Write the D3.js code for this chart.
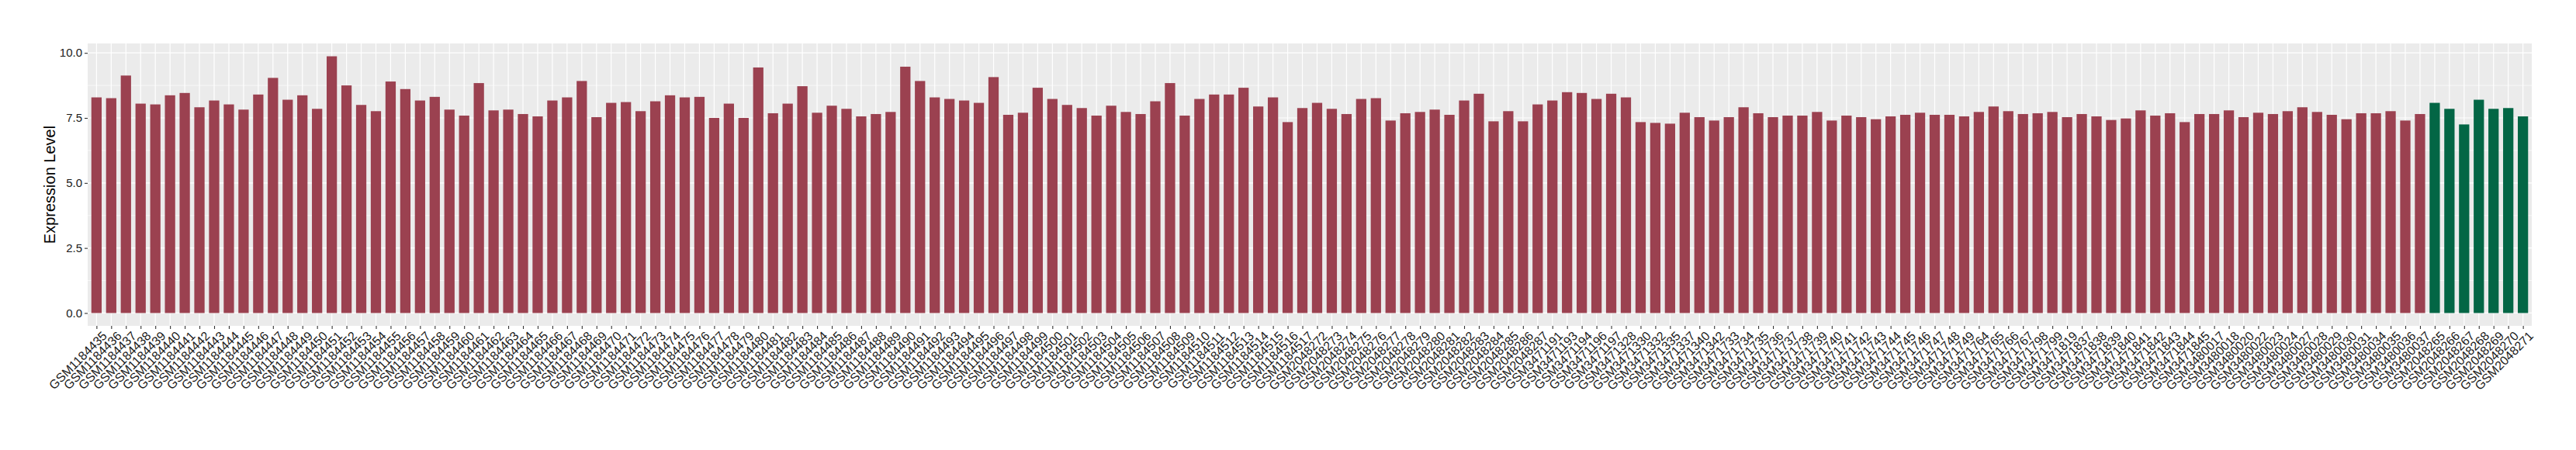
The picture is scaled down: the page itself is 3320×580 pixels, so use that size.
<!DOCTYPE html>
<html>
<head>
<meta charset="utf-8">
<script src="https://cdn.jsdelivr.net/npm/d3@7"></script>
<style>
  html, body { margin: 0; padding: 0; background: #ffffff; }
  svg { display: block; }
</style>
</head>
<body>
<svg id="chart" width="3320" height="580"></svg>
<script>
// ---------- data ----------
const samples = [
  "GSM1184435","GSM1184436","GSM1184437","GSM1184438","GSM1184439","GSM1184440","GSM1184441","GSM1184442","GSM1184443","GSM1184444",
  "GSM1184445","GSM1184446","GSM1184447","GSM1184448","GSM1184449","GSM1184450","GSM1184451","GSM1184452","GSM1184453","GSM1184454",
  "GSM1184455","GSM1184456","GSM1184457","GSM1184458","GSM1184459","GSM1184460","GSM1184461","GSM1184462","GSM1184463","GSM1184464",
  "GSM1184465","GSM1184466","GSM1184467","GSM1184468","GSM1184469","GSM1184470","GSM1184471","GSM1184472","GSM1184473","GSM1184474",
  "GSM1184475","GSM1184476","GSM1184477","GSM1184478","GSM1184479","GSM1184480","GSM1184481","GSM1184482","GSM1184483","GSM1184484",
  "GSM1184485","GSM1184486","GSM1184487","GSM1184488","GSM1184489","GSM1184490","GSM1184491","GSM1184492","GSM1184493","GSM1184494",
  "GSM1184495","GSM1184496","GSM1184497","GSM1184498","GSM1184499","GSM1184500","GSM1184501","GSM1184502","GSM1184503","GSM1184504",
  "GSM1184505","GSM1184506","GSM1184507","GSM1184508","GSM1184509","GSM1184510","GSM1184511","GSM1184512","GSM1184513","GSM1184514",
  "GSM1184515","GSM1184516","GSM1184517",
  "GSM2048272","GSM2048273","GSM2048274","GSM2048275","GSM2048276","GSM2048277","GSM2048278","GSM2048279","GSM2048280","GSM2048281",
  "GSM2048282","GSM2048283","GSM2048284","GSM2048285","GSM2048286","GSM2048287",
  "GSM3471191","GSM3471193","GSM3471194","GSM3471196","GSM3471197",
  "GSM3471328","GSM3471330","GSM3471332","GSM3471335","GSM3471337","GSM3471340","GSM3471342",
  "GSM3471733","GSM3471734","GSM3471735","GSM3471736","GSM3471737","GSM3471738","GSM3471739","GSM3471740","GSM3471741","GSM3471742",
  "GSM3471743","GSM3471744","GSM3471745","GSM3471746","GSM3471747","GSM3471748","GSM3471749","GSM3471764","GSM3471765","GSM3471766",
  "GSM3471767","GSM3471798","GSM3471799",
  "GSM3471819","GSM3471837","GSM3471838","GSM3471839","GSM3471840","GSM3471841","GSM3471842","GSM3471843","GSM3471844","GSM3471845",
  "GSM3480017","GSM3480018","GSM3480020","GSM3480022","GSM3480023","GSM3480024","GSM3480027","GSM3480028","GSM3480029","GSM3480030",
  "GSM3480031","GSM3480034","GSM3480035","GSM3480036","GSM3480037",
  "GSM2048265","GSM2048266","GSM2048267","GSM2048268","GSM2048269","GSM2048270","GSM2048271"
];

const expression = [
  8.29,8.26,9.13,8.05,8.02,8.37,8.46,7.91,8.17,8.02,
  7.82,8.40,9.04,8.20,8.37,7.85,9.87,8.75,8.00,7.76,
  8.90,8.61,8.17,8.31,7.82,7.59,8.84,7.79,7.82,7.65,
  7.56,8.17,8.29,8.92,7.53,8.08,8.11,7.76,8.14,8.37,
  8.29,8.31,7.50,8.05,7.50,9.44,7.68,8.05,8.72,7.70,
  7.97,7.85,7.56,7.65,7.73,9.47,8.92,8.29,8.23,8.17,
  8.08,9.07,7.62,7.70,8.66,8.23,8.00,7.88,7.59,7.97,
  7.73,7.65,8.14,8.84,7.59,8.23,8.40,8.40,8.66,7.94,
  8.29,7.34,7.88,
  8.08,7.85,7.65,8.23,8.26,7.40,7.68,7.73,7.82,7.62,
  8.17,8.43,7.37,7.76,7.37,8.02,
  8.17,8.49,8.46,8.23,8.43,
  8.29,7.34,7.31,7.28,7.70,7.53,7.40,
  7.53,7.91,7.68,7.53,7.59,7.59,7.73,7.40,7.59,7.53,
  7.45,7.56,7.62,7.70,7.62,7.62,7.56,7.73,7.94,7.76,
  7.65,7.68,7.73,
  7.53,7.65,7.56,7.42,7.48,7.79,7.59,7.68,7.34,7.65,
  7.65,7.79,7.53,7.70,7.65,7.76,7.91,7.73,7.62,7.45,
  7.68,7.68,7.76,7.40,7.65,
  8.08,7.85,7.25,8.20,7.85,7.88,7.56
];

// group of each sample: "tumor" (red) or "normal" (green)
const groups = samples.map((s, i) => i >= samples.length - 7 ? "normal" : "tumor");
const groupNames = ["tumor", "normal"];
const groupColors = ["#9B4150", "#036645"];

const yTicks = [0, 2.5, 5, 7.5, 10];
const yMinor = [1.25, 3.75, 6.25, 8.75];
const yTitle = "Expression Level";

// ---------- layout ----------
const panel = { left: 113, right: 3263, top: 56, bottom: 420 };
const n = samples.length;
const svg = d3.select("#chart");

// discrete x: positions 0..n-1, expanded 0.6 on each side (ggplot style)
const x = d3.scaleLinear().domain([-0.6, n - 1 + 0.6]).range([panel.left, panel.right]);
const bw = 0.7 * (x(1) - x(0));
const ymax = d3.max(expression);
const y = d3.scaleLinear().domain([-0.05 * ymax, ymax * 1.05]).range([panel.bottom, panel.top]);
const color = d3.scaleOrdinal().domain(groupNames).range(groupColors);

// panel background
svg.append("rect")
  .attr("x", panel.left).attr("y", panel.top)
  .attr("width", panel.right - panel.left).attr("height", panel.bottom - panel.top)
  .attr("fill", "#EBEBEB");

// grid
const grid = svg.append("g");
grid.selectAll("line.minor").data(yMinor).join("line")
  .attr("x1", panel.left).attr("x2", panel.right)
  .attr("y1", d => y(d)).attr("y2", d => y(d))
  .attr("stroke", "#ffffff").attr("stroke-width", 0.6);
grid.selectAll("line.majy").data(yTicks).join("line")
  .attr("x1", panel.left).attr("x2", panel.right)
  .attr("y1", d => y(d)).attr("y2", d => y(d))
  .attr("stroke", "#ffffff").attr("stroke-width", 1.2);
grid.selectAll("line.majx").data(samples).join("line")
  .attr("x1", (d, i) => x(i)).attr("x2", (d, i) => x(i))
  .attr("y1", panel.top).attr("y2", panel.bottom)
  .attr("stroke", "#ffffff").attr("stroke-width", 1.2);

// bars
svg.append("g").selectAll("rect").data(expression).join("rect")
  .attr("x", (d, i) => x(i) - bw / 2)
  .attr("width", bw)
  .attr("y", d => y(d))
  .attr("height", d => y(0) - y(d))
  .attr("fill", (d, i) => color(groups[i]));

// y axis
const yAxis = d3.axisLeft(y).tickValues(yTicks).tickFormat(d3.format(".1f")).tickSize(4).tickPadding(3);
const gy = svg.append("g").attr("transform", `translate(${panel.left},0)`).call(yAxis);
gy.select(".domain").remove();
gy.selectAll(".tick line").attr("stroke", "#333333").attr("stroke-width", 1.1);
gy.selectAll(".tick text").attr("fill", "#1a1a1a")
  .style("font-family", "'Liberation Sans', Arial, sans-serif").style("font-size", "15px");

// x axis
const xAxis = d3.axisBottom(x).tickValues(d3.range(n)).tickFormat(i => samples[i]).tickSize(4).tickPadding(2);
const gx = svg.append("g").attr("transform", `translate(0,${panel.bottom})`).call(xAxis);
gx.select(".domain").remove();
gx.selectAll(".tick line").attr("stroke", "#333333").attr("stroke-width", 1.1);
gx.selectAll(".tick text")
  .attr("fill", "#1a1a1a")
  .style("font-family", "'Liberation Sans', Arial, sans-serif").style("font-size", "16px")
  .attr("text-anchor", "end")
  .attr("dy", null).attr("y", null)
  .attr("transform", "translate(6,6) rotate(-45)")
  .attr("dominant-baseline", "hanging");

// y title
svg.append("text")
  .attr("transform", `translate(71,${(panel.top + panel.bottom) / 2}) rotate(-90)`)
  .attr("text-anchor", "middle")
  .style("font-family", "'Liberation Sans', Arial, sans-serif").style("font-size", "20px")
  .attr("fill", "#000")
  .text(yTitle);
</script>
</body>
</html>
